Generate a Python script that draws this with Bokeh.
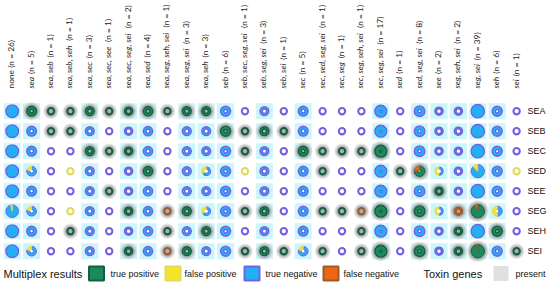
import math
from bokeh.plotting import figure
from bokeh.models import Range1d, ColumnDataSource
from bokeh.core.properties import value
from bokeh.embed import file_html
from bokeh.resources import INLINE

# ---------------- data ----------------
genotypes = ["none", "sea", "sea, seb", "sea, seb, seh", "sea, sec", "sea, sec, see",
             "sea, sec, seg, sei", "sea, sed", "sea, seg, seh, sei", "sea, seg, sei",
             "sea, seh", "seb", "seb, sec, seg, sei", "seb, seg, sei", "seb, sei", "sec",
             "sec, sed, seg, sei", "sec, seg", "sec, seg, seh, sei", "sec, seg, sei", "sed",
             "sed, seg, sei", "see", "seg, seh, sei", "seg, sei", "seh", "sei"]
n_isolates = [26, 5, 1, 1, 3, 1, 2, 4, 1, 3, 3, 6, 1, 3, 1, 5, 1, 1, 1, 17, 1, 8, 2, 2, 39, 6, 1]
toxins = ["SEA", "SEB", "SEC", "SED", "SEE", "SEG", "SEH", "SEI"]

# false positives (toxin gene absent but detected), per genotype column
fp_sea = [0, 0, 0, 0, 0, 0, 0, 0, 0, 0, 0, 0, 0, 0, 0, 0, 0, 0, 0, 0, 0, 0, 0, 0, 0, 0, 0]
fp_seb = [0, 0, 0, 0, 0, 0, 0, 0, 0, 0, 0, 0, 0, 0, 0, 0, 0, 0, 0, 0, 0, 0, 0, 0, 0, 0, 0]
fp_sec = [0, 0, 0, 0, 0, 0, 0, 0, 0, 0, 0, 0, 0, 0, 0, 0, 0, 0, 0, 0, 0, 0, 0, 0, 0, 0, 0]
fp_sed = [0, 1, 0, 1, 0, 0, 0, 0, 0, 0, 1, 0, 1, 0, 0, 0, 0, 0, 0, 0, 0, 0, 1, 0, 5, 0, 1]
fp_see = [0, 0, 0, 0, 0, 0, 0, 0, 0, 0, 0, 0, 0, 0, 0, 0, 0, 0, 0, 0, 0, 0, 0, 0, 0, 0, 0]
fp_seg = [1, 1, 0, 1, 0, 0, 0, 0, 0, 0, 1, 0, 0, 0, 0, 0, 0, 0, 0, 0, 0, 0, 1, 0, 0, 3, 0]
fp_seh = [0, 0, 0, 0, 0, 0, 0, 0, 0, 0, 0, 0, 0, 0, 0, 0, 0, 0, 0, 0, 0, 0, 0, 0, 0, 0, 0]
fp_sei = [0, 1, 0, 0, 0, 0, 0, 0, 0, 0, 0, 0, 0, 0, 0, 1, 0, 0, 0, 0, 0, 0, 0, 0, 0, 0, 0]

# false negatives (toxin gene present but not detected), per genotype column
fn_sea = [0, 0, 0, 0, 0, 0, 0, 0, 0, 0, 0, 0, 0, 0, 0, 0, 0, 0, 0, 0, 0, 0, 0, 0, 0, 0, 0]
fn_seb = [0, 0, 0, 0, 0, 0, 0, 0, 0, 0, 0, 0, 0, 0, 0, 0, 0, 0, 0, 0, 0, 0, 0, 0, 0, 0, 0]
fn_sec = [0, 0, 0, 0, 0, 0, 0, 0, 0, 0, 0, 0, 0, 0, 0, 0, 0, 0, 0, 0, 0, 0, 0, 0, 0, 0, 0]
fn_sed = [0, 0, 0, 0, 0, 0, 0, 0, 0, 0, 0, 0, 0, 0, 0, 0, 0, 0, 0, 0, 0, 2, 0, 0, 0, 0, 0]
fn_see = [0, 0, 0, 0, 0, 0, 0, 0, 0, 0, 0, 0, 0, 0, 0, 0, 0, 0, 0, 0, 0, 0, 0, 0, 0, 0, 0]
fn_seg = [0, 0, 0, 0, 0, 0, 0, 0, 1, 0, 0, 0, 0, 0, 0, 0, 0, 0, 1, 0, 0, 0, 0, 2, 3, 0, 0]
fn_seh = [0, 0, 0, 0, 0, 0, 0, 0, 0, 0, 0, 0, 0, 0, 0, 0, 0, 0, 0, 0, 0, 0, 0, 0, 0, 0, 0]
fn_sei = [0, 0, 0, 0, 0, 0, 0, 0, 1, 0, 0, 0, 0, 0, 0, 0, 0, 0, 0, 0, 0, 0, 0, 0, 1, 0, 0]

result_labels = ["true positive", "false positive", "true negative", "false negative"]

fp_rows = [fp_sea, fp_seb, fp_sec, fp_sed, fp_see, fp_seg, fp_seh, fp_sei]
fn_rows = [fn_sea, fn_seb, fn_sec, fn_sed, fn_see, fn_seg, fn_seh, fn_sei]

# ---------------- styles ----------------
FILL = {"true positive": "#1d8a5d", "false positive": "#f2e52a",
        "true negative": "#21b1f2", "false negative": "#f0650f"}
LINE = {"true positive": "#155f41", "false positive": "#e3d95c",
        "true negative": "#7560e4", "false negative": "#9c5a2c"}
ORDER = ["true positive", "true negative", "false negative", "false positive"]

X0, DX, Y0, DY = 11.7, 19.4, 110.7, 20.0


def dx(px):
    return (px - X0) / DX


def dy(py):
    return (py - Y0) / DY


p = figure(width=550, height=284, output_backend="svg", toolbar_location=None,
           x_range=Range1d(dx(0), dx(550)), y_range=Range1d(dy(284), dy(0)),
           min_border=0, x_axis_location=None, y_axis_location=None)
p.outline_line_color = None
p.grid.visible = False
p.background_fill_color = "white"
p.border_fill_color = "white"


def outer_r(n):
    return 4.0 + 0.86 * math.log(n)


def hole_r(n):
    return 2.8 - 0.6 * math.log(n) if n < 20 else 0.0


bg = dict(x=[], y=[])
halo = dict(x=[], y=[], r1=[], r2=[], r3=[])
dots = dict(x=[], y=[], r=[])
full = dict(x=[], y=[], ri=[], ro=[], fill=[], line=[])
wed = dict(x=[], y=[], ri=[], ro=[], sa=[], ea=[], fill=[], line=[])

for j, tox in enumerate(toxins):
    gene = tox.lower()
    for i, g in enumerate(genotypes):
        n = n_isolates[i]
        genes = [] if g == "none" else g.split(", ")
        present = gene in genes
        if present:
            counts = {"true positive": n - fn_rows[j][i], "false negative": fn_rows[j][i]}
        else:
            counts = {"true negative": n - fp_rows[j][i], "false positive": fp_rows[j][i]}
        R = outer_r(n) - 0.5
        h = hole_r(n)
        if n > 1:
            bg["x"].append(i); bg["y"].append(j)
        if present:
            halo["x"].append(i); halo["y"].append(j)
            halo["r1"].append(R + 4.2); halo["r2"].append(R + 3.0); halo["r3"].append(R + 1.8)
        elif h > 0:
            dots["x"].append(i); dots["y"].append(j); dots["r"].append(h + 0.3)
        items = [(c, counts.get(c, 0)) for c in ORDER if counts.get(c, 0) > 0]
        items.sort(key=lambda t: -t[1])
        if len(items) == 1:
            c = items[0][0]
            full["x"].append(i); full["y"].append(j); full["ri"].append(h); full["ro"].append(R)
            full["fill"].append(FILL[c]); full["line"].append(LINE[c])
        else:
            cum = 0
            for c, v in items:
                a = cum / n
                b = (cum + v) / n
                cum += v
                wed["x"].append(i); wed["y"].append(j); wed["ri"].append(h); wed["ro"].append(R)
                wed["sa"].append(math.pi / 2 - 2 * math.pi * b)
                wed["ea"].append(math.pi / 2 - 2 * math.pi * a)
                wed["fill"].append(FILL[c]); wed["line"].append(LINE[c])

p.rect(x="x", y="y", width=17, height=16, width_units="screen", height_units="screen",
       source=ColumnDataSource(bg), fill_color="#cdf6fb", line_color=None)
hs = ColumnDataSource(halo)
p.circle(x="x", y="y", radius="r1", radius_units="screen", source=hs,
         fill_color="#c9c9c9", fill_alpha=0.45, line_color=None)
p.circle(x="x", y="y", radius="r2", radius_units="screen", source=hs,
         fill_color="#a9a9a9", fill_alpha=0.45, line_color=None)
p.circle(x="x", y="y", radius="r3", radius_units="screen", source=hs,
         fill_color="#8f8f8f", fill_alpha=0.45, line_color=None)
p.circle(x="x", y="y", radius="r", radius_units="screen", source=ColumnDataSource(dots),
         fill_color="white", line_color=None)
p.annulus(x="x", y="y", inner_radius="ri", outer_radius="ro",
          inner_radius_units="screen", outer_radius_units="screen",
          source=ColumnDataSource(full), fill_color="fill", line_color="line", line_width=1.4)
p.annular_wedge(x="x", y="y", inner_radius="ri", outer_radius="ro",
                inner_radius_units="screen", outer_radius_units="screen",
                start_angle="sa", end_angle="ea", source=ColumnDataSource(wed),
                fill_color="fill", line_color="line", line_width=1.0)

# ---------------- column labels (vertical, genes italic) ----------------
FS = 8.4
CW = {" ": 0.21, ",": 0.23, "a": 0.53, "b": 0.57, "c": 0.48, "d": 0.57, "e": 0.53,
      "g": 0.51, "h": 0.57, "i": 0.25, "s": 0.43}
LBL_Y = 88.0
lab_it = dict(x=[], y=[], t=[])
lab_up = dict(x=[], y=[], t=[])
for i, g in enumerate(genotypes):
    ntxt = "(n = %d)" % n_isolates[i]
    if g == "none":
        lab_up["x"].append(i); lab_up["y"].append(dy(LBL_Y)); lab_up["t"].append(g + " " + ntxt)
    else:
        w = sum(CW.get(ch, 0.5) for ch in g) * FS + 0.24 * FS
        lab_it["x"].append(i); lab_it["y"].append(dy(LBL_Y)); lab_it["t"].append(g)
        lab_up["x"].append(i); lab_up["y"].append(dy(LBL_Y - w)); lab_up["t"].append(ntxt)

for src, style in ((lab_it, "italic"), (lab_up, "normal")):
    p.text(x="x", y="y", text="t", source=ColumnDataSource(src), angle=math.pi / 2,
           text_font=value("Lato"), text_font_size="%.1fpx" % FS, text_font_style=style,
           text_align="left", text_baseline="middle", text_color="#222222", x_offset=-1)

# ---------------- row labels ----------------
p.text(x=[dx(527)] * len(toxins), y=list(range(len(toxins))), text=toxins,
       text_font=value("Liberation Sans"), text_font_size="9px",
       text_align="left", text_baseline="middle", text_color="#111111")

# ---------------- legend ----------------
LY = dy(273)
p.text(x=[dx(3), dx(423)], y=[LY, LY], text=["Multiplex results", "Toxin genes"],
       text_font=value("Liberation Sans"), text_font_size="11px",
       text_align="left", text_baseline="middle", text_color="#111111")
sw_x = [96, 172.5, 251.5, 330.5]
txt_x = [110, 184, 265, 343]
p.rect(x=[dx(v) for v in sw_x], y=[LY] * 4, width=15, height=14, width_units="screen",
       height_units="screen", fill_color=[FILL[c] for c in result_labels],
       line_color=[LINE[c] for c in result_labels], line_width=2)
p.text(x=[dx(v) for v in txt_x], y=[LY] * 4, text=result_labels,
       text_font=value("Liberation Sans"), text_font_size="9px",
       text_align="left", text_baseline="middle", text_color="#111111")
p.rect(x=[dx(500.5)], y=[LY], width=15, height=15, width_units="screen", height_units="screen",
       fill_color="#e0e0e0", line_color=None)
p.text(x=[dx(515)], y=[LY], text=["present"],
       text_font=value("Liberation Sans"), text_font_size="9px",
       text_align="left", text_baseline="middle", text_color="#111111")

open("out.html", "w").write(file_html(p, INLINE))
